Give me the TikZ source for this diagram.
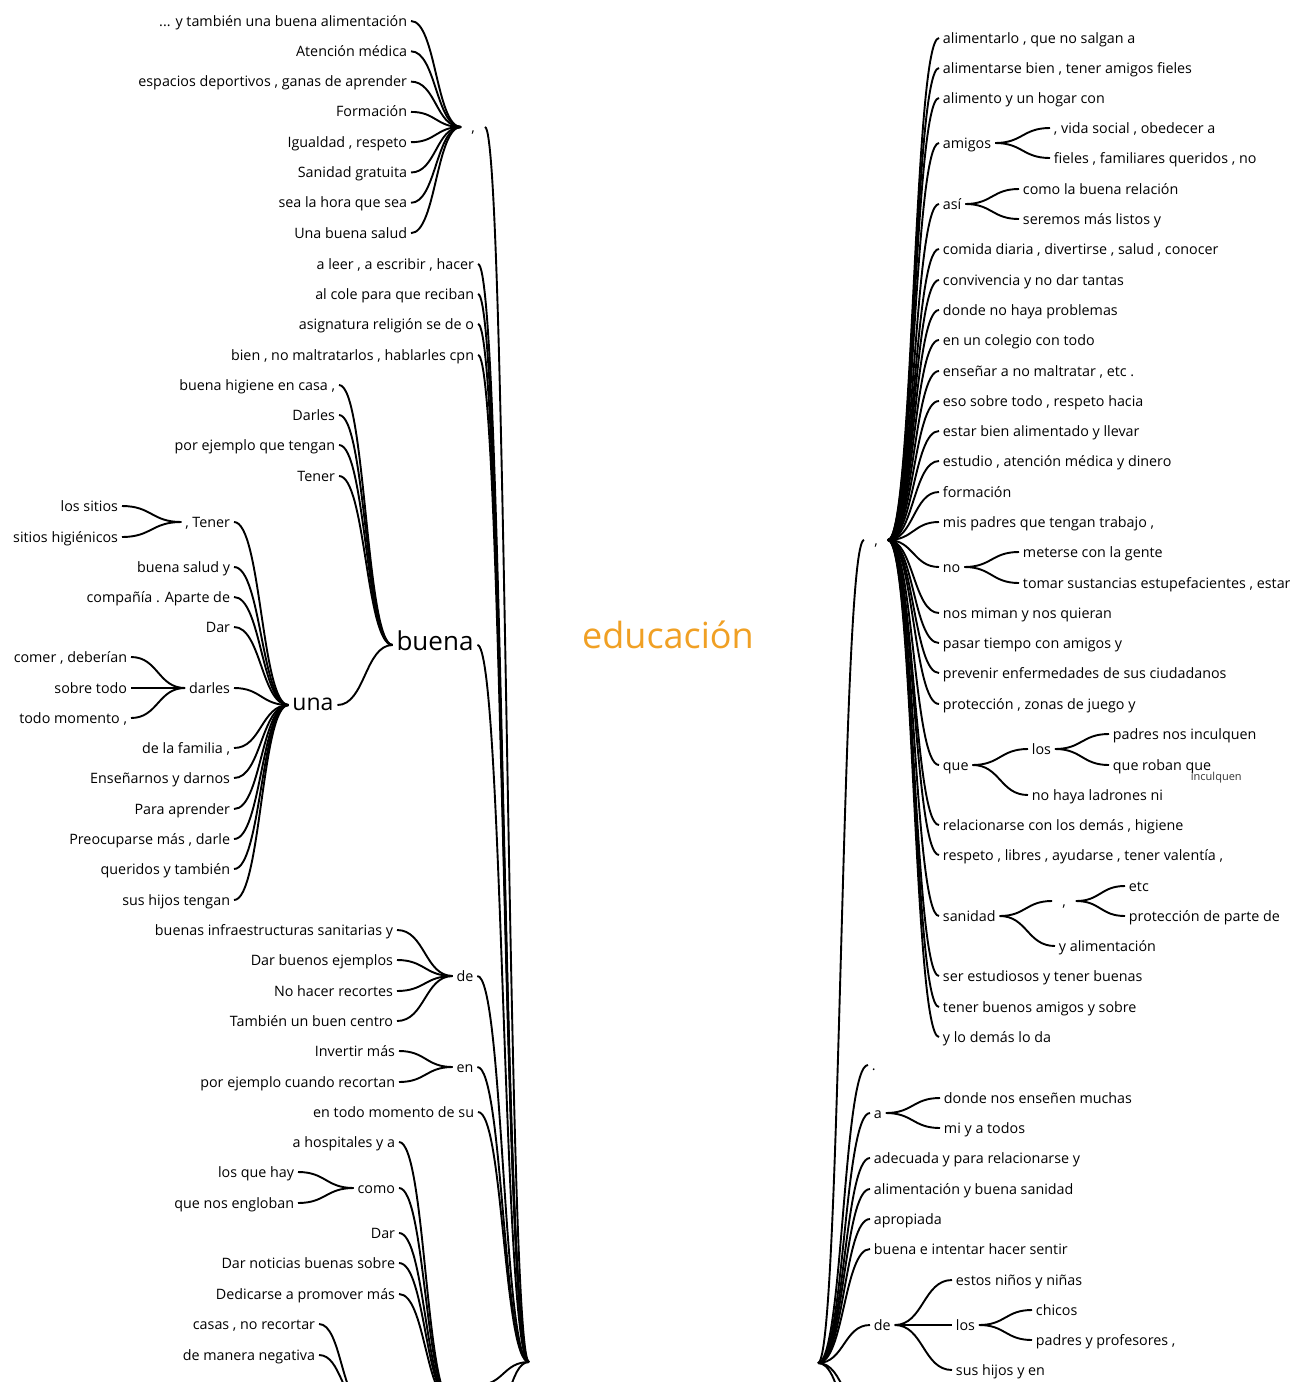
\documentclass[tikz,border=0pt]{standalone}
\usepackage{fontspec}
\setmainfont{Open Sans}
\usetikzlibrary{calc}

\definecolor{eduorange}{RGB}{240,160,36}

\tikzset{
  word/.style={inner sep=3pt, text height=2.1ex, text depth=.2ex, font=\fontsize{14.3}{16}\selectfont},
  lword/.style={word, anchor=east},
  rword/.style={word, anchor=west},
  bigword/.style={word, font=\fontsize{23}{27}\selectfont},
  punct/.style={word, minimum width=22pt},
  branch/.style={to path={let \p1=(\tikztostart), \p2=(\tikztotarget) in
     .. controls ({(\x1+\x2)/2},\y1) and ({(\x1+\x2)/2},\y2) .. (\tikztotarget)}},
}

\begin{document}
\begin{tikzpicture}[x=1pt, y=-1pt, line width=1.9pt]
\useasboundingbox (0,0) rectangle (1290,1382);
\clip (0,0) rectangle (1290,1382);

% centro
\node[font=\fontsize{36}{40}\selectfont, text=eduorange] (edu) at (668,635) {educación};

\coordinate (hubL) at (529,1362);
\coordinate (hubR) at (818,1363);

% ---- lado izquierdo ----
\node[punct] (comL) at (473,127) {,};
\node[lword] (a1) at (411,21) {... y también una buena alimentación};
\draw[branch] (a1.east) to (comL.west);
\foreach \t [count=\i from 2] in {{Atención médica},
  {espacios deportivos , ganas de aprender}, {Formación}, {Igualdad , respeto},
  {Sanidad gratuita}, {sea la hora que sea}, {Una buena salud}}
{
  \node[lword] (a\i) at (411,{21+30.3*(\i-1)}) {\t};
  \draw[branch] (a\i.east) to (comL.west);
}
\draw[branch] (comL.east) to (hubL);

\foreach \y/\t [count=\i] in {264/{a leer , a escribir , hacer}, 294/{al cole para que reciban},
  324/{asignatura religión se de o}, 355/{bien , no maltratarlos , hablarles cpn}}
{
  \node[lword] (b\i) at (478,\y) {\t};
  \draw[branch] (b\i.east) to (hubL);
}

\node[bigword, font=\fontsize{26}{30}\selectfont] (buena) at (435,645) {buena};
\node[bigword] (una) at (313,705) {una};
\foreach \y/\t [count=\i] in {385/{buena higiene en casa ,}, 415/{Darles},
  445/{por ejemplo que tengan}, 476/{Tener}}
{
  \node[lword] (bu\i) at (339,\y) {\t};
  \draw[branch] (bu\i.east) to (buena.west);
}
\draw[branch] (una.east) to (buena.west);
\draw[branch] (buena.east) to (hubL);

\node[lword] (tenerU) at (234,522) {, Tener};
\node[lword] (darlesU) at (234,688) {darles};
\foreach \y/\t [count=\i] in {567/{buena salud y}, 597/{compañía . Aparte de}, 627/{Dar},
  748/{de la familia ,}, 778/{Enseñarnos y darnos}, 809/{Para aprender},
  839/{Preocuparse más , darle}, 869/{queridos y también}, 900/{sus hijos tengan}}
{
  \node[lword] (u\i) at (234,\y) {\t};
  \draw[branch] (u\i.east) to (una.west);
}
\draw[branch] (tenerU.east) to (una.west);
\draw[branch] (darlesU.east) to (una.west);

\node[lword] (sitios1) at (122,506) {los sitios};
\node[lword] (sitios2) at (122,537) {sitios higiénicos};
\draw[branch] (sitios1.east) to (tenerU.west);
\draw[branch] (sitios2.east) to (tenerU.west);

\foreach \y/\t [count=\i] in {657/{comer , deberían}, 688/{sobre todo}, 718/{todo momento ,}}
{
  \node[lword] (dl\i) at (131,\y) {\t};
  \draw[branch] (dl\i.east) to (darlesU.west);
}

\node[word] (deL) at (465,976) {de};
\foreach \y/\t [count=\i] in {930/{buenas infraestructuras sanitarias y}, 960/{Dar buenos ejemplos},
  991/{No hacer recortes}, 1021/{También un buen centro}}
{
  \node[lword] (de\i) at (397,\y) {\t};
  \draw[branch] (de\i.east) to (deL.west);
}
\draw[branch] (deL.east) to (hubL);

\node[word] (enL) at (465,1067) {en};
\node[lword] (en1) at (399,1051) {Invertir más};
\node[lword] (en2) at (399,1082) {por ejemplo cuando recortan};
\draw[branch] (en1.east) to (enL.west);
\draw[branch] (en2.east) to (enL.west);
\draw[branch] (enL.east) to (hubL);

\node[lword] (todoL) at (478,1112) {en todo momento de su};
\draw[branch] (todoL.east) to (hubL);

% ramas que siguen por debajo del borde
\coordinate (pLow) at (452,1402);
\coordinate (pLowE) at (478,1385);
\coordinate (pCasas) at (364,1404);
\node[lword] (como) at (399,1188) {como};
\foreach \y/\t [count=\i] in {1142/{a hospitales y a}, 1233/{Dar},
  1263/{Dar noticias buenas sobre}, 1294/{Dedicarse a promover más}}
{
  \node[lword] (lo\i) at (399,\y) {\t};
  \draw[branch] (lo\i.east) to (pLow);
}
\draw[branch] (como.east) to (pLow);
\node[lword] (como1) at (298,1172) {los que hay};
\node[lword] (como2) at (298,1203) {que nos engloban};
\draw[branch] (como1.east) to (como.west);
\draw[branch] (como2.east) to (como.west);
\node[lword] (casas1) at (319,1324) {casas , no recortar};
\node[lword] (casas2) at (319,1355) {de manera negativa};
\draw[branch] (casas1.east) to (pCasas);
\draw[branch] (casas2.east) to (pCasas);
\draw[branch] (pLowE) to (hubL);

% ---- lado derecho ----
\node[punct] (comR) at (876,540) {,};
\draw[branch] (hubR) to (comR.west);
\foreach \y/\t [count=\i] in {38/{alimentarlo , que no salgan a}, 68/{alimentarse bien , tener amigos fieles},
  98/{alimento y un hogar con}, 249/{comida diaria , divertirse , salud , conocer},
  280/{convivencia y no dar tantas}, 310/{donde no haya problemas}, 340/{en un colegio con todo},
  371/{enseñar a no maltratar , etc .}, 401/{eso sobre todo , respeto hacia},
  431/{estar bien alimentado y llevar}, 461/{estudio , atención médica y dinero},
  492/{formación}, 522/{mis padres que tengan trabajo ,}, 613/{nos miman y nos quieran},
  643/{pasar tiempo con amigos y}, 673/{prevenir enfermedades de sus ciudadanos},
  704/{protección , zonas de juego y}, 825/{relacionarse con los demás , higiene},
  855/{respeto , libres , ayudarse , tener valentía ,}, 976/{ser estudiosos y tener buenas},
  1007/{tener buenos amigos y sobre}, 1037/{y lo demás lo da}}
{
  \node[rword] (r\i) at (939,\y) {\t};
  \draw[branch] (comR.east) to (r\i.west);
}

\node[rword] (amigos) at (939,143) {amigos};
\node[rword] (asi) at (939,204) {así};
\node[rword] (noR) at (939,567) {no};
\node[rword] (queR) at (939,765) {que};
\node[rword] (sanidad) at (939,916) {sanidad};
\foreach \nm in {amigos,asi,noR,queR,sanidad}
  \draw[branch] (comR.east) to (\nm.west);

\node[rword] (am1) at (1050,128) {, vida social , obedecer a};
\node[rword] (am2) at (1050,158) {fieles , familiares queridos , no};
\draw[branch] (amigos.east) to (am1.west);
\draw[branch] (amigos.east) to (am2.west);

\node[rword] (as1) at (1019,189) {como la buena relación};
\node[rword] (as2) at (1019,219) {seremos más listos y};
\draw[branch] (asi.east) to (as1.west);
\draw[branch] (asi.east) to (as2.west);

\node[rword] (no1) at (1019,552) {meterse con la gente};
\node[rword] (no2) at (1019,583) {tomar sustancias estupefacientes , estar};
\draw[branch] (noR.east) to (no1.west);
\draw[branch] (noR.east) to (no2.west);

\node[rword] (losR) at (1028,749) {los};
\node[rword] (que2) at (1028,795) {no haya ladrones ni};
\draw[branch] (queR.east) to (losR.west);
\draw[branch] (queR.east) to (que2.west);
\node[rword] (los1) at (1109,734) {padres nos inculquen};
\node[rword] (los2) at (1109,765) {que roban que};
\draw[branch] (losR.east) to (los1.west);
\draw[branch] (losR.east) to (los2.west);
\node[anchor=west, inner sep=0pt, font=\fontsize{11}{13}\selectfont, text=black!80] (inc) at (1190,778) {inculquen};

\node[punct] (comS) at (1064,901) {,};
\node[rword] (san2) at (1055,946) {y alimentación};
\draw[branch] (sanidad.east) to (comS.west);
\draw[branch] (sanidad.east) to (san2.west);
\node[rword] (s1) at (1125,886) {etc};
\node[rword] (s2) at (1125,916) {protección de parte de};
\draw[branch] (comS.east) to (s1.west);
\draw[branch] (comS.east) to (s2.west);

% segundo grupo derecho
\node[rword] (dotR) at (868,1065) {.};
\node[rword] (aR) at (870,1113) {a};
\node[rword] (deR) at (870,1325) {de};
\foreach \nm in {dotR,aR,deR}
  \draw[branch] (hubR) to (\nm.west);
\foreach \y/\t [count=\i] in {1158/{adecuada y para relacionarse y}, 1189/{alimentación y buena sanidad},
  1219/{apropiada}, 1249/{buena e intentar hacer sentir}}
{
  \node[rword] (g\i) at (870,\y) {\t};
  \draw[branch] (hubR) to (g\i.west);
}
\node[rword] (a1R) at (940,1098) {donde nos enseñen muchas};
\node[rword] (a2R) at (940,1128) {mi y a todos};
\draw[branch] (aR.east) to (a1R.west);
\draw[branch] (aR.east) to (a2R.west);

\node[rword] (de1R) at (952,1280) {estos niños y niñas};
\node[rword] (losD) at (952,1325) {los};
\node[rword] (de3R) at (952,1370) {sus hijos y en};
\foreach \nm in {de1R,losD,de3R}
  \draw[branch] (deR.east) to (\nm.west);
\node[rword] (ld1) at (1032,1310) {chicos};
\node[rword] (ld2) at (1032,1340) {padres y profesores ,};
\draw[branch] (losD.east) to (ld1.west);
\draw[branch] (losD.east) to (ld2.west);

% continuacion bajo el borde
\coordinate (offR1) at (872,1420);
\coordinate (offR2) at (866,1445);
\coordinate (offL1) at (488,1425);
\draw[branch] (hubR) to (offR1);
\draw[branch] (hubR) to (offR2);
\draw[branch] (offL1) to (hubL);
\end{tikzpicture}
\end{document}
